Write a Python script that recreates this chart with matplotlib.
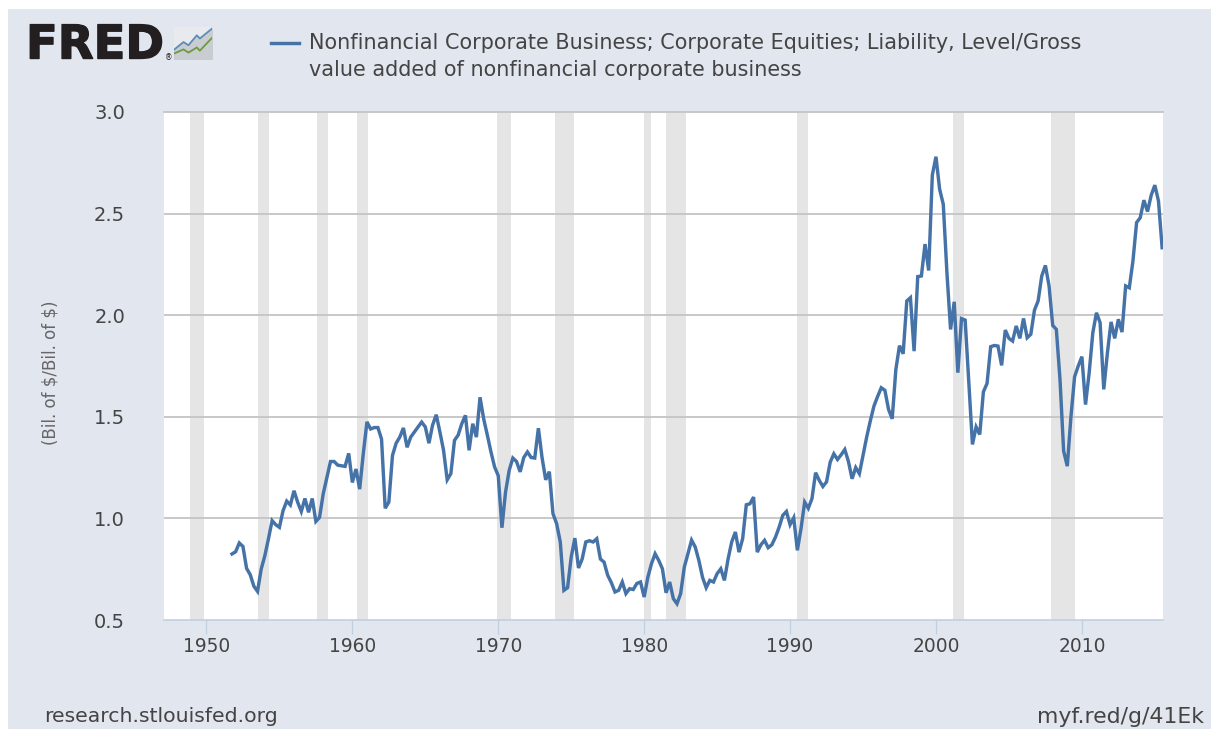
import numpy as np
import matplotlib
matplotlib.use("Agg")
import matplotlib.pyplot as plt
from matplotlib.patches import Rectangle
import matplotlib.patheffects as pe

W, H = 1211, 729

start_year = 1951.75
values = [
 0.825,0.836,0.879,0.862,0.754,0.723,0.666,0.641,0.75,0.816,0.90,0.989,0.969,0.956,1.038,1.085,
 1.066,1.136,1.08,1.034,1.098,1.03,1.098,0.985,1.005,1.12,1.20,1.28,1.28,1.262,1.259,1.256,
 1.32,1.177,1.243,1.144,1.32,1.475,1.44,1.447,1.447,1.39,1.05,1.08,1.31,1.37,1.40,1.445,
 1.35,1.40,1.425,1.45,1.474,1.45,1.37,1.46,1.51,1.425,1.335,1.19,1.22,1.384,1.41,1.466,
 1.507,1.335,1.466,1.40,1.596,1.49,1.41,1.327,1.253,1.21,0.954,1.13,1.237,1.297,1.28,1.229,
 1.30,1.327,1.30,1.297,1.444,1.30,1.19,1.23,1.023,0.974,0.884,0.646,0.659,0.81,0.903,0.756,
 0.80,0.884,0.89,0.884,0.90,0.80,0.785,0.72,0.684,0.638,0.646,0.687,0.63,0.654,0.65,0.68,
 0.687,0.613,0.71,0.777,0.826,0.793,0.752,0.634,0.687,0.605,0.58,0.63,0.76,0.826,0.893,0.859,
 0.793,0.71,0.659,0.695,0.687,0.728,0.752,0.695,0.80,0.884,0.933,0.834,0.90,1.067,1.072,1.105,
 0.834,0.87,0.892,0.856,0.87,0.908,0.957,1.015,1.034,0.969,1.003,0.843,0.95,1.08,1.05,1.097,
 1.225,1.187,1.157,1.18,1.277,1.318,1.29,1.313,1.339,1.28,1.195,1.25,1.22,1.31,1.40,1.48,
 1.553,1.60,1.643,1.63,1.536,1.49,1.733,1.85,1.81,2.07,2.086,1.823,2.19,2.193,2.35,2.22,
 2.69,2.78,2.62,2.546,2.21,1.93,2.066,1.717,1.983,1.976,1.667,1.364,1.45,1.413,1.623,1.664,
 1.845,1.851,1.848,1.753,1.927,1.886,1.873,1.947,1.886,1.984,1.889,1.906,2.025,2.07,2.193,2.245,
 2.144,1.95,1.93,1.684,1.331,1.257,1.50,1.697,1.75,1.796,1.56,1.717,1.914,2.012,1.963,1.635,
 1.815,1.967,1.886,1.98,1.917,2.144,2.135,2.267,2.456,2.48,2.566,2.51,2.59,2.64,2.562,2.332,
]
dates = start_year + np.arange(len(values)) * 0.25

recession_starts = [1948.9,1953.5,1957.6,1960.3,1969.9,1973.9,1980.0,1981.5,1990.5,2001.2,2007.9]
recession_ends   = [1949.8,1954.3,1958.3,1961.1,1970.9,1975.2,1980.5,1982.9,1991.2,2001.9,2009.5]

x_ticks = [1950,1960,1970,1980,1990,2000,2010]
y_ticks = [0.5,1.0,1.5,2.0,2.5,3.0]
legend_lines = ["Nonfinancial Corporate Business; Corporate Equities; Liability, Level/Gross",
                "value added of nonfinancial corporate business"]
y_label = r"(Bil. of \$/Bil. of \$)"
source_left = "research.stlouisfed.org"
source_right = "myf.red/g/41Ek"

BG = "#E1E6EF"; LINE = "#4572A7"; TXT = "#444444"; GRID = "#C4C4C4"; REC = "#E5E5E5"; TICK = "#C0D0E0"

plt.rcParams["font.family"] = "DejaVu Sans"
fig = plt.figure(figsize=(W/100, H/100), dpi=100, facecolor="white")

def fx(px): return px / W
def fy(py): return 1 - py / H

fig.patches.append(Rectangle((fx(8), 0), 1 - fx(8), fy(9), transform=fig.transFigure, fc=BG, ec="none", zorder=-5))

L, R, T, B = 164, 1163, 112, 620
ax = fig.add_axes([fx(L), fy(B), (R-L)/W, (B-T)/H], facecolor="white")
ax.set_xlim(1947.09, 2015.56)
ax.set_ylim(0.5, 3.0)
for s, e in zip(recession_starts, recession_ends):
    ax.axvspan(s, e, fc=REC, ec="none", zorder=1)
ax.set_yticks(y_ticks)
ax.set_yticklabels([f"{v:.1f}" for v in y_ticks])
ax.set_xticks(x_ticks)
ax.grid(axis="y", color=GRID, lw=1.3, zorder=2)
ax.set_axisbelow(False)
gl = ax.get_ygridlines()
gl[0].set_visible(False)
gl[-1].set_clip_on(False)
ax.plot(dates, values, color=LINE, lw=2.45, solid_joinstyle="miter", zorder=3)
for s in ["left", "right", "top"]:
    ax.spines[s].set_visible(False)
ax.spines["bottom"].set_color(TICK)
ax.spines["bottom"].set_linewidth(1.2)
ax.tick_params(axis="x", length=10, width=0.9, color=TICK, labelsize=13.4, labelcolor=TXT, pad=2.5)
ax.tick_params(axis="y", length=0, labelsize=14, labelcolor=TXT, pad=28)
ax.xaxis.grid(False)

fig.text(fx(50), fy(373), y_label, rotation=90, ha="center", va="center", fontsize=12, color="#666666")
fig.text(fx(44), fy(717), source_left, ha="left", va="center", fontsize=14.7, color=TXT)
fig.text(fx(1204), fy(717), source_right, ha="right", va="center", fontsize=15.8, color=TXT)

fig.add_artist(plt.Line2D([fx(271), fx(299)], [fy(43), fy(43)], color=LINE, lw=2.45, transform=fig.transFigure))
fig.text(fx(309), fy(43), legend_lines[0], ha="left", va="center", fontsize=14.95, color=TXT)
fig.text(fx(309), fy(70), legend_lines[1], ha="left", va="center", fontsize=14.95, color=TXT)

# FRED logo
fig.text(fx(26), fy(58.5), "FRED", ha="left", va="baseline", fontsize=33.5, fontweight="bold", color="#231F20",
         path_effects=[pe.withStroke(linewidth=1.0, foreground="#231F20")])
fig.text(fx(165), fy(60), "®", ha="left", va="baseline", fontsize=5.5, color="#231F20")
logo = fig.add_axes([fx(174), fy(59), 38/W, 32/H], facecolor="#E9EAED")
logo.set_xlim(0, 1); logo.set_ylim(0, 1)
logo.set_xticks([]); logo.set_yticks([])
for s in logo.spines.values():
    s.set_visible(False)
logo_x = [0.0, 0.25, 0.38, 0.6, 0.68, 1.0]
logo_blue = [0.29, 0.53, 0.43, 0.74, 0.64, 0.95]
logo_green = [0.17, 0.30, 0.20, 0.36, 0.26, 0.66]
logo.fill_between(logo_x, 0, logo_blue, color="#C9CDD2")
logo.plot(logo_x, logo_blue, color="#5B8DB8", lw=1.3)
logo.plot(logo_x, logo_green, color="#6E9A3F", lw=1.3)

fig.savefig("out.png", dpi=100, facecolor="white")
